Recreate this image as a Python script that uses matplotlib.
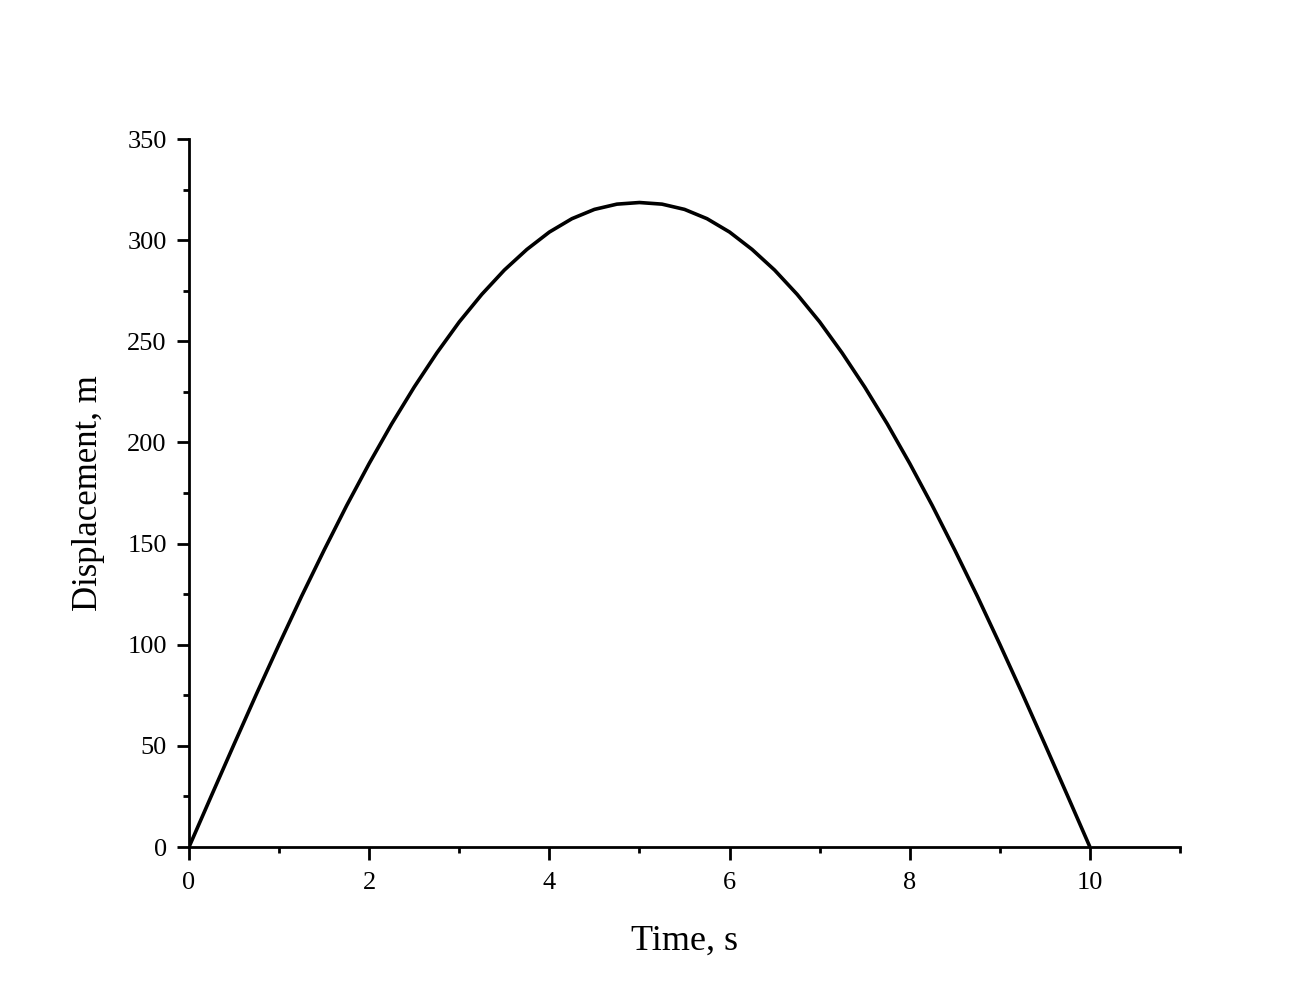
import matplotlib
matplotlib.use('Agg')
import matplotlib.pyplot as plt
from matplotlib.ticker import MultipleLocator

# values
time_s = [0, 0.25, 0.5, 0.75, 1, 1.25, 1.5, 1.75, 2, 2.25, 2.5, 2.75, 3, 3.25, 3.5,
          3.75, 4, 4.25, 4.5, 4.75, 5, 5.25, 5.5, 5.75, 6, 6.25, 6.5, 6.75, 7,
          7.25, 7.5, 7.75, 8, 8.25, 8.5, 8.75, 9, 9.25, 9.5, 9.75, 10]
displacement_m = [0, 25.5, 50.8, 75.8, 100.2, 124, 146.8, 168.8, 189.6, 209.2,
                  227.4, 244.2, 259.6, 273.2, 285.2, 295.4, 304, 310.6, 315.2,
                  317.8, 318.6, 317.8, 315.2, 310.6, 304, 295.4, 285.2, 273.2,
                  259.6, 244.2, 227.4, 209.2, 189.6, 168.8, 146.8, 124, 100.2,
                  75.8, 50.8, 25.5, 0]

plt.rcParams['font.family'] = ['Liberation Serif', 'DejaVu Serif']

fig = plt.figure(figsize=(13, 10), dpi=100)
ax = fig.add_axes([0.1454, 0.153, 0.7623, 0.708])

ax.plot(time_s, displacement_m, color='black', linewidth=2.6,
        solid_joinstyle='round', solid_capstyle='butt')

ax.set_xlim(0, 11)
ax.set_ylim(0, 350)
ax.set_xticks([0, 2, 4, 6, 8, 10])
ax.xaxis.set_minor_locator(MultipleLocator(1))
ax.yaxis.set_major_locator(MultipleLocator(50))
ax.yaxis.set_minor_locator(MultipleLocator(25))

for side in ['top', 'right']:
    ax.spines[side].set_visible(False)
for side in ['left', 'bottom']:
    ax.spines[side].set_linewidth(2)

ax.tick_params(which='major', direction='out', length=9, width=2, labelsize=19, pad=7)
ax.tick_params(axis='x', which='major', pad=9)
ax.tick_params(which='minor', direction='out', length=4.5, width=2)

ax.set_xlabel('Time, s', fontsize=26, labelpad=22)
ax.set_ylabel('Displacement, m', fontsize=25, labelpad=16)

fig.savefig('out.png', dpi=100)
